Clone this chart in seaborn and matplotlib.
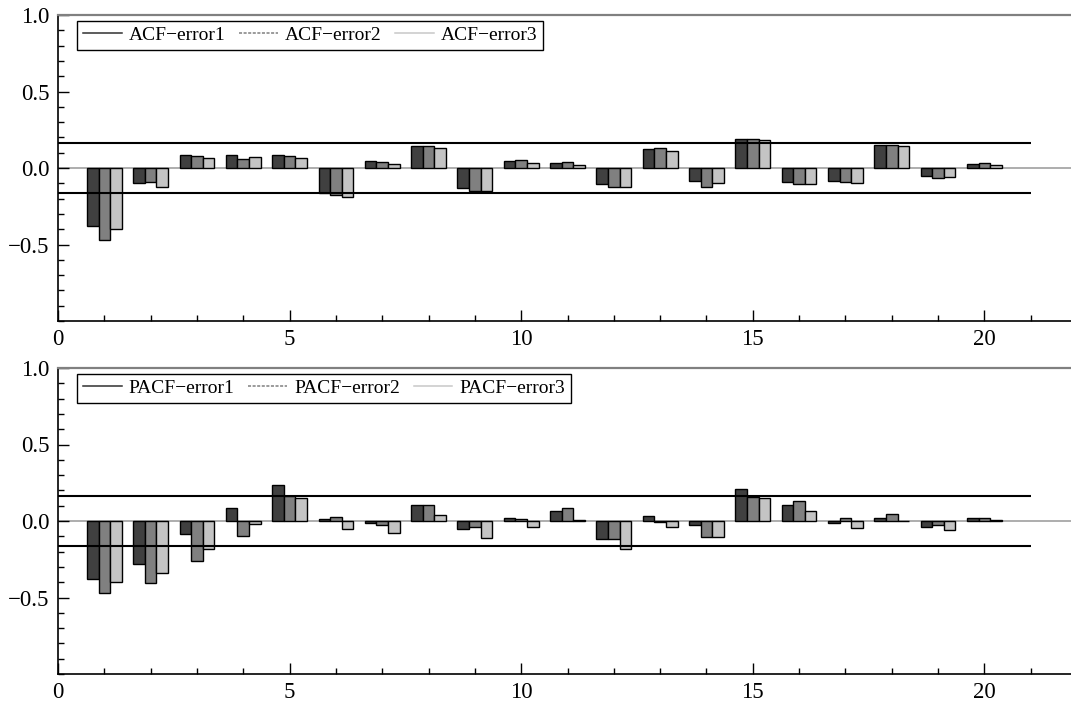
import pandas as pd
import matplotlib
matplotlib.use("Agg")
import matplotlib.pyplot as plt
from matplotlib.lines import Line2D
import seaborn as sns

# lags and values
lags = list(range(1, 21))
acf_error1 = [-0.376, -0.095, 0.087, 0.087, 0.085, -0.165, 0.046, 0.142, -0.128, 0.048,
              0.035, -0.107, 0.122, -0.087, 0.190, -0.092, -0.083, 0.153, -0.050, 0.029]
acf_error2 = [-0.470, -0.089, 0.081, 0.056, 0.081, -0.178, 0.039, 0.144, -0.148, 0.055,
              0.039, -0.122, 0.129, -0.122, 0.192, -0.105, -0.089, 0.153, -0.067, 0.031]
acf_error3 = [-0.400, -0.124, 0.068, 0.071, 0.068, -0.187, 0.029, 0.133, -0.148, 0.035,
              0.022, -0.122, 0.114, -0.098, 0.186, -0.105, -0.096, 0.146, -0.056, 0.022]
pacf_error1 = [-0.376, -0.279, -0.082, 0.087, 0.235, 0.015, -0.011, 0.102, -0.054, 0.022,
               0.063, -0.120, 0.035, -0.024, 0.209, 0.103, -0.015, 0.020, -0.039, 0.020]
pacf_error2 = [-0.470, -0.403, -0.263, -0.100, 0.163, 0.029, -0.026, 0.107, -0.039, 0.010,
               0.085, -0.115, -0.004, -0.102, 0.160, 0.133, 0.020, 0.048, -0.028, 0.020]
pacf_error3 = [-0.400, -0.340, -0.180, -0.022, 0.153, -0.054, -0.078, 0.042, -0.111, -0.037,
               0.005, -0.180, -0.039, -0.102, 0.150, 0.068, -0.043, -0.003, -0.060, 0.005]
conf_bound = 0.163
acf_names = ["ACF\u2212error1", "ACF\u2212error2", "ACF\u2212error3"]
pacf_names = ["PACF\u2212error1", "PACF\u2212error2", "PACF\u2212error3"]

bar_colors = ["#404040", "#808080", "#c4c4c4"]
line_colors = ["#303030", "#808080", "#c8c8c8"]
line_styles = ["-", (0, (2, 1)), "-"]

plt.rcParams["font.family"] = ["Liberation Serif", "DejaVu Serif"]
plt.rcParams["font.size"] = 16


def long_table(names, series):
    rows = []
    for name, vals in zip(names, series):
        for lag, v in zip(lags, vals):
            rows.append({"lag": lag, "value": v, "series": name})
    return pd.DataFrame(rows)


def draw_panel(ax, names, series):
    df = long_table(names, series)
    ax.axhline(0, color="#a0a0a0", lw=1.2, zorder=1)
    sns.barplot(data=df, x="lag", y="value", hue="series", native_scale=True,
                width=0.75, palette=bar_colors, edgecolor="black", linewidth=1.0,
                errorbar=None, legend=False, ax=ax, zorder=2)
    ax.hlines([conf_bound, -conf_bound], 0, 21, color="black", lw=1.5, zorder=3)
    ax.set_xlim(0, 22)
    ax.set_ylim(-1, 1)
    ax.set_xticks([0, 5, 10, 15, 20])
    ax.set_xticks(range(0, 22), minor=True)
    ax.set_yticks([-0.5, 0.0, 0.5, 1.0])
    ax.set_yticks([x / 10 for x in range(-10, 11)], minor=True)
    ax.set_yticklabels(["\u22120.5", "0.0", "0.5", "1.0"])
    ax.tick_params(which="major", direction="in", length=8, width=1, pad=6, labelsize=16.5)
    ax.tick_params(which="minor", direction="in", length=4, width=1)
    ax.set_xlabel("")
    ax.set_ylabel("")
    ax.spines["right"].set_visible(False)
    ax.spines["top"].set_color("#808080")
    ax.spines["top"].set_linewidth(1.6)
    ax.spines["left"].set_linewidth(1.2)
    ax.spines["bottom"].set_linewidth(1.2)
    handles = [Line2D([], [], color=c, ls=s, lw=1.1) for c, s in zip(line_colors, line_styles)]
    leg = ax.legend(handles, names, loc="upper left", bbox_to_anchor=(0.019, 0.982), ncol=3,
                    frameon=True, fancybox=False, edgecolor="black", framealpha=1,
                    borderpad=0.3, handlelength=2.0, handletextpad=0.35, columnspacing=0.7,
                    borderaxespad=0, fontsize=14)
    leg.get_frame().set_linewidth(1.0)


fig = plt.figure(figsize=(10.71, 7.04), dpi=100)
ax1 = fig.add_axes([58 / 1071, 1 - 321 / 704, 1019 / 1071, 306 / 704])
ax2 = fig.add_axes([58 / 1071, 1 - 674 / 704, 1019 / 1071, 306 / 704])

draw_panel(ax1, acf_names, [acf_error1, acf_error2, acf_error3])
draw_panel(ax2, pacf_names, [pacf_error1, pacf_error2, pacf_error3])

fig.savefig("out.png", dpi=100)
